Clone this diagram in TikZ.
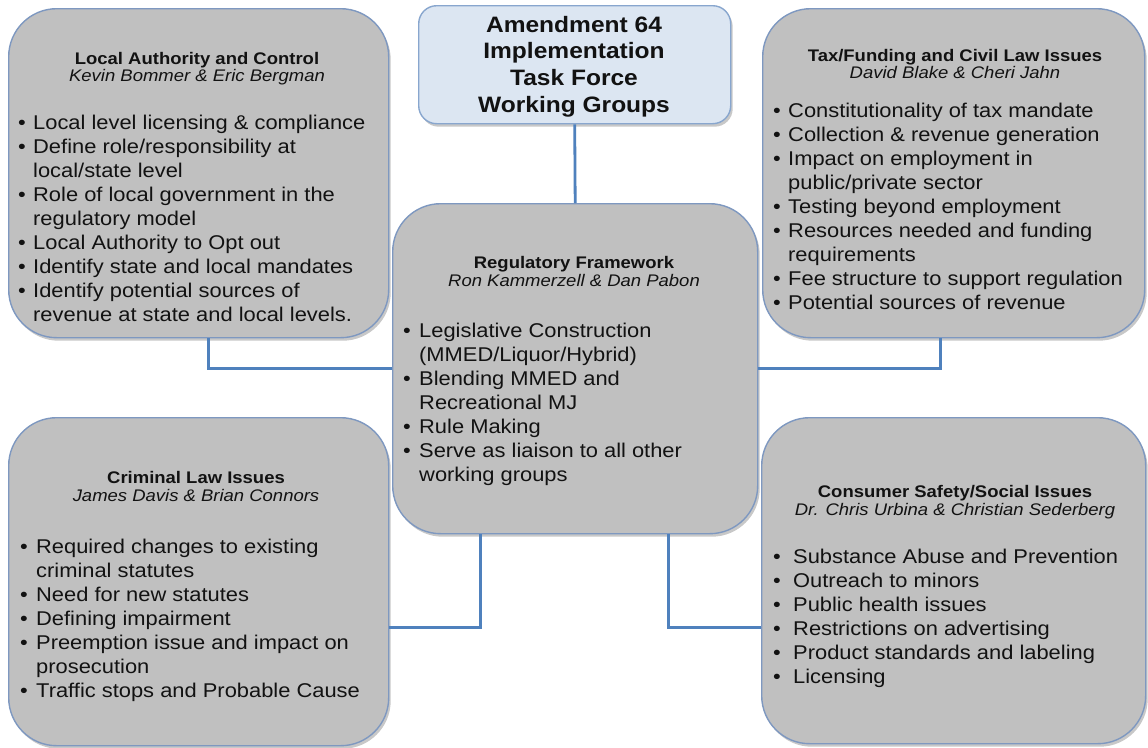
\documentclass[tikz,border=0pt]{standalone}
\usepackage{fontspec}
\setmainfont[FakeStretch=1.1]{Liberation Sans}
\usetikzlibrary{shadows}
\definecolor{boxfill}{RGB}{192,192,192}
\definecolor{boxline}{RGB}{126,152,192}
\definecolor{topfill}{RGB}{220,230,242}
\definecolor{topline}{RGB}{136,166,206}
\definecolor{connc}{RGB}{79,129,189}
\definecolor{txt}{RGB}{18,18,18}
\newdimen\bind
\newcommand\bitem[1]{\hbox{\hbox to\bind{\textbullet\hss}#1}}
\newcommand\citem[1]{\hbox{\hskip\bind #1}}
\begin{document}
\begin{tikzpicture}[x=1pt,y=-1pt,
  shadowed/.style={drop shadow={shadow xshift=2pt,shadow yshift=-3pt,opacity=0.3,fill=black!70}},
  gbox/.style={draw=boxline,line width=1.4pt,fill=boxfill,rounded corners=48pt,inner sep=0pt,anchor=north west,shadowed},
  tbox/.style={draw=topline,line width=1.4pt,fill=topfill,rounded corners=18pt,inner sep=0pt,anchor=north west,shadowed},
  conn/.style={draw=connc,line width=2.8pt},
  ttl/.style={font=\fontsize{16.8}{19}\selectfont\bfseries,text=txt,anchor=base,inner sep=0pt},
  nm/.style={font=\fontsize{16.8}{19}\selectfont\itshape,text=txt,anchor=base,inner sep=0pt},
  lst/.style={font=\fontsize{19.9}{24.1}\selectfont,text=txt,anchor=base west,inner sep=0pt},
  toptext/.style={font=\fontsize{22.3}{26.7}\selectfont\bfseries,text=txt,anchor=base,inner sep=0pt}]
\useasboundingbox[fill=white] (0,0) rectangle (1148,747);
% boxes
\node[tbox,minimum width=312pt,minimum height=118pt] (top) at (418,5) {};
\node[gbox,minimum width=380pt,minimum height=329pt] (tl) at (8,8) {};
\node[gbox,minimum width=382pt,minimum height=329pt] (tr) at (762,8) {};
\node[gbox,minimum width=365pt,minimum height=330pt] (ctr) at (392,203) {};
\node[gbox,minimum width=380pt,minimum height=328pt] (bl) at (8,417) {};
\node[gbox,minimum width=384pt,minimum height=326pt] (br) at (761,417) {};
% connectors
\draw[conn] (top.south) -- (ctr.north);
\draw[conn] ([xshift=10pt]tl.south) |- (ctr.west);
\draw[conn] ([xshift=-13pt]tr.south) |- (ctr.east);
\draw[conn] ([xshift=-94.5pt]ctr.south) |- ([yshift=-46pt]bl.east);
\draw[conn] ([xshift=93.5pt]ctr.south) |- ([yshift=-47pt]br.west);
% top box text
\node[toptext] (topT) at (574,32) {\begin{tabular}[t]{@{}c@{}}Amendment 64\\Implementation\\Task Force\\Working Groups\end{tabular}};
% top-left
\node[ttl] (tlT) at (197,64) {Local Authority and Control};
\node[nm] (tlN) at (197,81) {Kevin Bommer \& Eric Bergman};
\node[lst] (tlL) at (18,129) {\bind=15pt\vtop{\baselineskip=24.1pt
  \bitem{Local level licensing \& compliance}
  \bitem{Define role/responsibility at}
  \citem{local/state level}
  \bitem{Role of local government in the}
  \citem{regulatory model}
  \bitem{Local Authority to Opt out}
  \bitem{Identify state and local mandates}
  \bitem{Identify potential sources of}
  \citem{revenue at state and local levels.}}};
% top-right
\node[ttl] (trT) at (955,61) {Tax/Funding and Civil Law Issues};
\node[nm] (trN) at (955,78) {David Blake \& Cheri Jahn};
\node[lst] (trL) at (773,117) {\bind=15pt\vtop{\baselineskip=24.1pt
  \bitem{Constitutionality of tax mandate}
  \bitem{Collection \& revenue generation}
  \bitem{Impact on employment in}
  \citem{public/private sector}
  \bitem{Testing beyond employment}
  \bitem{Resources needed and funding}
  \citem{requirements}
  \bitem{Fee structure to support regulation}
  \bitem{Potential sources of revenue}}};
% center
\node[ttl] (cT) at (574,268) {Regulatory Framework};
\node[nm] (cN) at (574,286) {Ron Kammerzell \& Dan Pabon};
\node[lst] (cL) at (403,337) {\bind=16pt\vtop{\baselineskip=24.1pt
  \bitem{Legislative Construction}
  \citem{(MMED/Liquor/Hybrid)}
  \bitem{Blending MMED and}
  \citem{Recreational MJ}
  \bitem{Rule Making}
  \bitem{Serve as liaison to all other}
  \citem{working groups}}};
% bottom-left
\node[ttl] (blT) at (196,483) {Criminal Law Issues};
\node[nm] (blN) at (196,501) {James Davis \& Brian Connors};
\node[lst] (blL) at (20,553) {\bind=16pt\vtop{\baselineskip=24.1pt
  \bitem{Required changes to existing}
  \citem{criminal statutes}
  \bitem{Need for new statutes}
  \bitem{Defining impairment}
  \bitem{Preemption issue and impact on}
  \citem{prosecution}
  \bitem{Traffic stops and Probable Cause}}};
% bottom-right
\node[ttl] (brT) at (955,497) {Consumer Safety/Social Issues};
\node[nm] (brN) at (955,515) {Dr. Chris Urbina \& Christian Sederberg};
\node[lst] (brL) at (773,563) {\bind=20pt\vtop{\baselineskip=24.1pt
  \bitem{Substance Abuse and Prevention}
  \bitem{Outreach to minors}
  \bitem{Public health issues}
  \bitem{Restrictions on advertising}
  \bitem{Product standards and labeling}
  \bitem{Licensing}}};
\end{tikzpicture}
\end{document}
